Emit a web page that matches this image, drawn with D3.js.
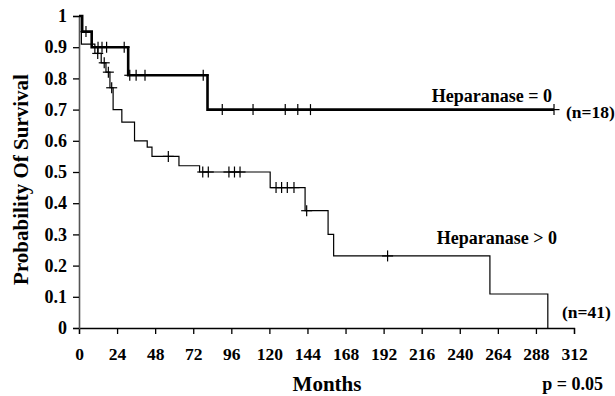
<!DOCTYPE html>
<html>
<head>
<meta charset="utf-8">
<script src="https://cdn.jsdelivr.net/npm/d3@7"></script>
<style>
  body { margin: 0; background: #fff; }
  text { font-family: "Liberation Serif", "Times New Roman", serif; font-weight: bold; fill: #000; }
</style>
</head>
<body>
<div id="chart"></div>
<script>
// axis ticks
const monthTicks = [0, 24, 48, 72, 96, 120, 144, 168, 192, 216, 240, 264, 288, 312];
const probTicks = [0, 0.1, 0.2, 0.3, 0.4, 0.5, 0.6, 0.7, 0.8, 0.9, 1];

// Heparanase = 0 (n=18): step times (months) and survival after each step
const hep0Times = [0, 2, 8, 31, 81, 299.4];
const hep0Surv = [1, 0.95, 0.90, 0.81, 0.70, 0.70];
const hep0Censored = [4.4, 12, 14.5, 17.4, 28.5, 32, 36, 41.6, 78.3, 90.3, 109.7, 130, 137.9, 145.9, 299.4];

// Heparanase > 0 (n=41)
const hep1Times = [0, 1.5, 10, 14, 17, 19.5, 21.5, 27, 35, 43, 46, 63, 76, 120.5, 142.5, 157, 160.5, 259, 295.5];
const hep1Surv = [1, 0.91, 0.88, 0.85, 0.82, 0.77, 0.70, 0.66, 0.60, 0.58, 0.55, 0.52, 0.50, 0.45, 0.376, 0.30, 0.231, 0.109, 0];
const hep1Censored = [11.8, 15.9, 18.5, 20.6, 56.3, 78, 81.5, 94.5, 98, 101.5, 124.2, 127.7, 131.3, 135.5, 143.5, 194.5];

const width = 615, height = 396;
const margin = { left: 79, right: 41, top: 16, bottom: 68 };

const svg = d3.select("#chart").append("svg")
  .attr("width", width)
  .attr("height", height);

const x = d3.scaleLinear().domain([0, 312]).range([margin.left, width - margin.right]);
const y = d3.scaleLinear().domain([0, 1]).range([height - margin.bottom, margin.top]);

// x axis
const xAxis = svg.append("g")
  .attr("transform", `translate(0,${y(0)})`)
  .call(d3.axisBottom(x).tickValues(monthTicks).tickSize(6).tickPadding(14).tickFormat(d3.format("d")));
xAxis.select(".domain").attr("stroke", "#000").attr("stroke-width", 1.3);
xAxis.selectAll(".tick line").attr("stroke", "#000").attr("stroke-width", 1.3);
xAxis.selectAll(".tick text").attr("font-size", 17.5).attr("font-family", null);

// y axis
const yAxis = svg.append("g")
  .attr("transform", `translate(${x(0)},0)`)
  .call(d3.axisLeft(y).tickValues(probTicks).tickSize(6).tickPadding(6)
    .tickFormat(d => d === 0 || d === 1 ? d3.format("d")(d) : d3.format(".1f")(d)));
yAxis.select(".domain").attr("stroke", "#555").attr("stroke-width", 1.6);
yAxis.selectAll(".tick line").attr("stroke", "#000").attr("stroke-width", 1.3);
yAxis.selectAll(".tick text").attr("font-size", 18).attr("font-family", null);

function stepData(times, surv) {
  return times.map((t, i) => ({ t: t, s: surv[i] }));
}
function survAt(times, surv, t) {
  let s = surv[0];
  times.forEach((tt, i) => { if (tt <= t) s = surv[i]; });
  return s;
}

const line = d3.line()
  .x(d => x(d.t))
  .y(d => y(d.s))
  .curve(d3.curveStepAfter);

function drawCurve(times, surv, censored, strokeW) {
  svg.append("path")
    .datum(stepData(times, surv))
    .attr("fill", "none")
    .attr("stroke", "#000")
    .attr("stroke-width", strokeW)
    .attr("d", line);

  const marks = svg.append("g")
    .selectAll("g")
    .data(censored.map(t => ({ t: t, s: survAt(times, surv, t) })))
    .join("g")
    .attr("transform", d => `translate(${x(d.t)},${y(d.s)})`);
  marks.append("line").attr("x1", -5.5).attr("x2", 5.5)
    .attr("stroke", "#000").attr("stroke-width", 1.2);
  marks.append("line").attr("y1", -5.5).attr("y2", 5.5)
    .attr("stroke", "#000").attr("stroke-width", 1.2);
}

drawCurve(hep1Times, hep1Surv, hep1Censored, 1.2);
drawCurve(hep0Times, hep0Surv, hep0Censored, 2.6);

// labels
svg.append("text").attr("x", 552).attr("y", 102).attr("text-anchor", "end")
  .attr("font-size", 18).text("Heparanase = 0");
svg.append("text").attr("x", 566).attr("y", 118)
  .attr("font-size", 17.5).text("(n=18)");
svg.append("text").attr("x", 557).attr("y", 244).attr("text-anchor", "end")
  .attr("font-size", 18).text("Heparanase > 0");
svg.append("text").attr("x", 562).attr("y", 318)
  .attr("font-size", 17.5).text("(n=41)");
svg.append("text").attr("x", 603).attr("y", 390).attr("text-anchor", "end")
  .attr("font-size", 18).text("p = 0.05");

// axis titles
svg.append("text").attr("x", 327).attr("y", 391).attr("text-anchor", "middle")
  .attr("font-size", 21).text("Months");
svg.append("text")
  .attr("transform", `translate(28,${(72 + 287) / 2}) rotate(-90)`)
  .attr("text-anchor", "middle")
  .attr("font-size", 21).text("Probability Of Survival");
</script>
</body>
</html>
